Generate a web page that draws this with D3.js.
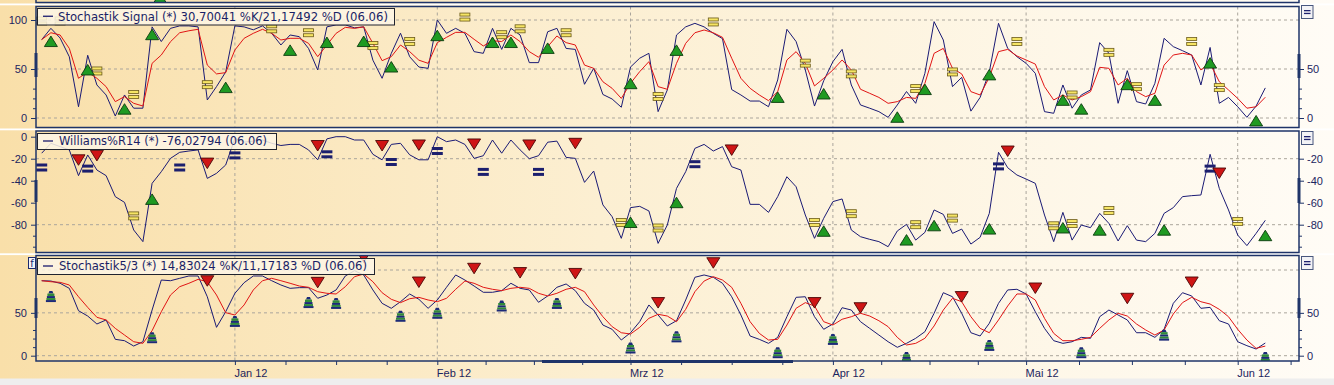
<!DOCTYPE html>
<html>
<head>
<meta charset="utf-8">
<script src="https://cdnjs.cloudflare.com/ajax/libs/d3/7.8.5/d3.min.js"></script>
<style>
  body { margin: 0; background: #fff; }
  svg { display: block; font-family: 'DejaVu Sans', Verdana, sans-serif; }
</style>
</head>
<body>
<div id="chart"></div>
<script>
// x axis: one slot per weekday, 02.12.2011 .. 06.06.2012
var monthIdx = [21, 43, 64, 86, 107, 130];
var monthLabels = ['Jan 12', 'Feb 12', 'Mrz 12', 'Apr 12', 'Mai 12', 'Jun 12'];

// Stochastik Signal %K / %D
var stochK = [80, 91.5, 81.6, 62.5, 11.5, 64, 33.7, 23.5, 2, 23.5,
  10, 10, 93, 78, 91.5, 94, 94, 93, 18.4, 32,
  47, 94, 93, 90, 94, 86.4, 74.5, 84.7, 83, 71,
  49, 93, 95, 95, 92, 93, 59, 40.5, 66, 86.5,
  62.5, 52, 50.7, 100, 86.4, 91.5, 86.4, 67.7, 66, 91.5,
  70, 91.5, 84.7, 56.5, 56.5, 88, 91.5, 71, 70, 34.4,
  50.7, 24, 19.4, 11, 52, 61, 66, 6.5, 28.6, 84.7,
  93, 96.6, 93, 86.4, 81, 29, 23.5, 17.3, 17.3, 11.5,
  38.8, 90.5, 78, 49, 12.2, 38, 57.5, 70, 33.7, 13.3,
  10, 6.5, 0.7, 13.3, 27, 15, 45.6, 98.3, 79.6, 32,
  41.5, 7, 21, 47, 96.6, 71, 62.6, 55.8, 45.6, 6.5,
  4.8, 33.7, 10, 23.5, 28.6, 76.9, 66, 15, 48.3, 16.7,
  14.3, 35.4, 81.3, 72.8, 68.7, 64.3, 33.7, 72, 15, 21,
  11.5, 0.7, 12.2, 30.7];
var stochD = [80, 87, 84.7, 71, 40.5, 47, 40.5, 32, 16.7, 21.8,
  15, 12.2, 55.8, 64.3, 77.9, 87, 89, 90.5, 54, 45,
  46.3, 69.4, 81.3, 86.4, 90.5, 86.4, 79.6, 81.3, 81.3, 76.2,
  62.6, 74.5, 86.4, 92.5, 91.5, 93, 76.2, 58.5, 62.6, 74.5,
  67.7, 59, 55.8, 76.9, 82.3, 87.4, 87.4, 80.3, 73.5, 78.9,
  78, 84.7, 78, 67.7, 62, 72.8, 83.7, 76.9, 74.5, 54,
  50.7, 37, 30.3, 20, 35.4, 47.3, 57.5, 32, 29.3, 55.8,
  76.2, 87, 89.8, 87, 82.3, 61, 40.5, 30.3, 23.5, 17.7,
  26.9, 59.2, 67.7, 55.8, 32.7, 40.5, 49, 59.2, 49, 29.3,
  25.2, 21, 15, 16.7, 21, 20, 35.4, 66, 71, 50.7,
  45, 26.9, 23.5, 41.5, 67.7, 70, 63.3, 59.2, 55, 32,
  18.4, 23.5, 18.4, 21.8, 26.9, 51.7, 50.7, 33.7, 40.5, 26.9,
  21.8, 25.2, 54, 64.3, 66, 64.3, 49, 55.8, 37, 28.6,
  20, 10, 11.5, 21.2];

// Williams %R 14
var willR = [-15, -6, -9, -12, -35.4, -16.6, -30.3, -35.4, -54.5, -59.7,
  -84.8, -95.4, -42.4, -31.8, -19.7, -14.2, -13, -12, -37.9, -33.3,
  -25.7, -1.5, -5, -4, -3, -6, -8, -7, -7, -12,
  -21, -2, 0, 0, -3, -3, -16, -21, -7, -6,
  -16.5, -21, -21, 0, -4.5, -3, -7, -19.7, -17.3, -3,
  -15, -3, -12, -20, -17.3, -5, -4, -18.8, -19.7, -41.5,
  -31.2, -62, -72.7, -92.4, -64.5, -63.3, -67.5, -97, -80.3, -47,
  -31.8, -10.6, -7, -13, -9, -27.3, -30.3, -61.5, -61.5, -68.8,
  -54.5, -36.4, -45.5, -71.2, -92.4, -74.2, -59, -56.6, -84.8, -90.9,
  -93.3, -95.4, -100, -85.7, -79.7, -94, -87, -66.6, -70.6, -87.9,
  -84, -97.6, -91.5, -69.7, -14.2, -28.2, -34.8, -38.5, -42.4, -71.2,
  -95.4, -68.8, -94, -80.3, -82.7, -69.7, -78.8, -94.8, -80.9, -94,
  -95.4, -87.9, -69.7, -64.5, -54.5, -53.6, -53, -16, -47, -66.6,
  -89.4, -99, -87.9, -76];

// Stochastik 5/3 %K / %D
var s53K = [87.5, 87.1, 84.5, 78.6, 52.5, 46.3, 37, 41.7, 19.1, 17.5,
  11.3, 16.3, 53.3, 88.3, 87.5, 90.3, 93, 93, 68.8, 33.1,
  51.3, 72.8, 85.2, 93, 93, 87.5, 82.5, 78.6, 79.4, 79.4,
  67, 70.8, 76.7, 93, 99.2, 94.2, 76.7, 61.1, 55.3, 63,
  72, 65.8, 55.3, 65, 79.8, 94.2, 88.3, 81.3, 74, 74,
  75.9, 84.5, 78.6, 76.7, 62.3, 69.7, 79.8, 83.7, 75.9, 61.1,
  53.3, 35.8, 30.8, 18.3, 26.8, 39.7, 59.2, 47.5, 34.7, 40.8,
  65, 91.5, 94.2, 91.5, 84.5, 68.8, 47.5, 23, 19.1, 14.4,
  21.4, 45.5, 68.1, 68.8, 45.5, 30.8, 37, 56, 53.3, 39.7,
  31.9, 24.1, 16.3, 9.8, 14.4, 20.3, 28, 49.5, 73.5, 68.8,
  49.5, 26.8, 23, 37.8, 61.1, 76.7, 77.5, 72, 51.3, 31.9,
  17.5, 14.4, 16.3, 21.4, 20.3, 45.5, 53.3, 47.5, 41.7, 26.8,
  26.8, 21.4, 30.8, 61.1, 73.5, 69.7, 55.3, 56.4, 40.8, 37,
  16.3, 11.7, 7.8, 14.8];
var s53D = [87.5, 86.3, 85.6, 82.5, 68.8, 56.4, 44.8, 41.7, 31.9, 24.1,
  16.3, 14.4, 29.2, 51.3, 70.8, 80.5, 84.5, 89.1, 86.3, 70.8,
  50.2, 47.5, 59.2, 76.7, 87.5, 90.3, 87.5, 84.5, 81.3, 79.8,
  74.7, 72.8, 72, 80.5, 92.2, 95.3, 86.3, 73.5, 65.8, 61.9,
  66.5, 68.1, 65, 63, 67, 77.5, 87.1, 84.5, 79.8, 77.5,
  75.9, 78.6, 79.8, 78.6, 72.8, 69.7, 72.8, 77.5, 79.8, 74.7,
  59.2, 45.5, 33.9, 26.8, 25.3, 33.1, 43.6, 48.3, 46.3, 39.7,
  54.1, 74.7, 87.1, 92.2, 88.3, 79.8, 61.1, 39.7, 26.1, 18.3,
  19.1, 35.8, 55.3, 61.9, 58, 39.7, 35.8, 42.5, 45.5, 49.5,
  46.3, 40.8, 33.9, 21.4, 12.5, 14.4, 20.3, 34.7, 53.3, 67,
  63, 45.5, 31.9, 26.8, 41.7, 58, 72, 72, 65, 43.6,
  26.1, 17.5, 17.5, 19.1, 21.4, 31.9, 41.7, 49.5, 46.3, 37,
  30, 24.1, 30, 48.7, 61.9, 68.1, 63, 60.3, 54.1, 45.5,
  30.8, 18.3, 8.6, 11.2];

// signal markers: slot index + value
var p1UpIdx = [1, 5, 9, 12, 20, 27, 31, 35, 38, 43, 49, 51, 55, 64, 69, 80, 85, 93, 96, 103, 111, 113, 118, 121, 127, 132];
var p1UpVal = [78, 49, 9, 85, 31, 69, 77, 78, 52, 84, 77, 77, 71, 35, 69, 21, 24.5, 0.7, 29, 44, 18, 9, 34, 18, 56, -3];
var p1EqIdx = [0, 2, 6, 10, 18, 25, 29, 36, 40, 46, 50, 52, 57, 67, 73, 83, 88, 95, 99, 106, 112, 116, 119, 125, 128];
var p1EqVal = [99, 99, 48, 24, 34, 91, 87, 74, 78, 103, 85, 91, 87, 22, 98, 56, 45, 30, 47, 78, 23.5, 67, 32, 78, 31];

var p2NavyIdx = [0, 5, 15, 21, 31, 38, 43, 48, 54, 71, 104, 127];
var p2NavyVal = [-28, -29, -28, -17, -16, -23, -13, -32, -32, -25, -27, -29];
var p2DownIdx = [4, 6, 18, 30, 37, 41, 47, 53, 58, 75, 105, 128];
var p2DownVal = [-21, -17, -24, -8, -8, -7.5, -6.6, -7.5, -6, -12, -13, -33];
var p2UpIdx = [12, 64, 69, 85, 94, 97, 103, 111, 115, 122, 133];
var p2UpVal = [-57, -78, -60, -86, -94, -81, -84, -83, -85, -85, -90];
var p2EqIdx = [10, 63, 67, 84, 88, 95, 99, 110, 112, 116, 130];
var p2EqVal = [-72, -78, -83, -78, -70, -80, -74, -81, -79, -67, -77];

var p3DownIdx = [18, 30, 35, 41, 47, 52, 58, 67, 73, 84, 89, 100, 108, 118, 125];
var p3DownVal = [87.5, 85.6, 115, 86, 102, 97, 96, 62, 108.5, 62, 56, 69, 79, 67, 86];
var p3PawnIdx = [1, 12, 21, 29, 32, 39, 43, 50, 56, 64, 69, 80, 86, 94, 103, 113, 122, 133];
var p3PawnVal = [69, 21, 40, 62, 61, 46, 49.5, 58, 61, 9, 22, 3.5, 19, -2, 12, 3.5, 24, -2];

var legends = ['Stochastik Signal (*) 30,70041 %K/21,17492 %D (06.06)',
  'Williams%R14 (*) -76,02794 (06.06)',
  'Stochastik5/3 (*) 14,83024 %K/11,17183 %D (06.06)'];

// ---- layout ----
var W = 1334, H = 385;
var left = 36, right = 1299;
var navy = '#1f3469', txt = '#1b2460';

var x = d3.scaleLinear().domain([0, 133]).range([41.7, 1265.3]);

var panels = [
  { top: 6.5, bottom: 127.5, y: d3.scaleLinear().domain([0, 100]).range([118, 20]),
    grid: [0, 50, 100], lticks: [0, 50, 100], rticks: [0, 50], minor: [10, 20, 30],
    thick: [[53, 77], [54, 78]], legend: { x1: 37, x2: 394, y1: 8, y2: 24.5, tx: 58, tw: 330 } },
  { top: 131, bottom: 252.5, y: d3.scaleLinear().domain([-100, 0]).range([246.7, 136.7]),
    grid: [-20, -80], lticks: [0, -20, -40, -60, -80], rticks: [-20, -40, -60, -80], minor: [-90, -100],
    thick: [[180, 202], [178, 203]], legend: { x1: 37, x2: 276, y1: 133, y2: 149, tx: 59, tw: 208 } },
  { top: 255.5, bottom: 361, y: d3.scaleLinear().domain([0, 100]).range([355.7, 270]),
    grid: [0, 50, 100], lticks: [0, 50], rticks: [0, 50], minor: [10, 20, 30],
    thick: [[298, 318], [298, 318]], legend: { x1: 37, x2: 374, y1: 258, y2: 274, tx: 59, tw: 308 } }
];

var svg = d3.select('#chart').append('svg')
    .attr('width', W)
    .attr('height', H);

var defs = svg.append('defs');
var grad = defs.append('linearGradient').attr('id', 'bg')
    .attr('x1', 0).attr('x2', 1).attr('y1', 0).attr('y2', 0);
grad.append('stop').attr('offset', '0').attr('stop-color', '#f9dfa9');
grad.append('stop').attr('offset', '0.45').attr('stop-color', '#fcefd2');
grad.append('stop').attr('offset', '1').attr('stop-color', '#fffcf6');

svg.append('rect').attr('width', W).attr('height', H).attr('fill', 'url(#bg)');
svg.append('rect').attr('y', 378.5).attr('width', W).attr('height', 7).attr('fill', '#eeeeee');

// white separators between panels
[3.5, 128.5, 253.3].forEach(function(yy) {
  svg.append('rect').attr('x', 0).attr('y', yy).attr('width', W).attr('height', 1.8).attr('fill', '#ffffff');
});

// bottom of the panel above (cut off)
svg.append('path').attr('d', 'M154,2.5L166,2.5L160,-8Z').attr('fill', '#1e9a2a').attr('stroke', '#0c3a10');
svg.append('path')
    .attr('d', 'M' + left + ',0V2.5H' + right + 'V0')
    .attr('fill', 'none').attr('stroke', navy).attr('stroke-width', 1.5);

var xTicks = [];
monthIdx.forEach(function(m, k) {
  xTicks.push(m);
  var next = k < monthIdx.length - 1 ? monthIdx[k + 1] : null;
  var step = next !== null ? (next - m) / 4 : (m - monthIdx[k - 1]) / 4;
  var n = next !== null ? 3 : 1;
  for (var j = 1; j <= n; j++) xTicks.push(m + step * j);
});

var line = function(y) {
  return d3.line().x(function(d, i) { return x(i); }).y(function(d) { return y(d); });
};

function drawMarkers(g, idx, vals, y, kind) {
  var m = g.append('g').selectAll('g')
      .data(d3.zip(idx, vals))
    .enter().append('g')
      .attr('transform', function(d) { return 'translate(' + x(d[0]) + ',' + y(d[1]) + ')'; });

  if (kind === 'up') {
    m.append('path').attr('d', 'M-6.5,5L6.5,5L0,-5.5Z')
      .attr('fill', '#1f9a22').attr('stroke', '#0b3b0e').attr('stroke-width', 0.9);
  } else if (kind === 'down') {
    m.append('path').attr('d', 'M-6.5,-5L6.5,-5L0,5.5Z')
      .attr('fill', '#cf1515').attr('stroke', '#4a0707').attr('stroke-width', 0.9);
  } else if (kind === 'eqy') {
    m.append('rect').attr('x', -5).attr('y', -4).attr('width', 10).attr('height', 3)
      .attr('fill', '#f6e564').attr('stroke', '#6b5a1a').attr('stroke-width', 0.8);
    m.append('rect').attr('x', -5).attr('y', 1).attr('width', 10).attr('height', 3)
      .attr('fill', '#f6e564').attr('stroke', '#6b5a1a').attr('stroke-width', 0.8);
  } else if (kind === 'eqn') {
    m.append('rect').attr('x', -5.5).attr('y', -4).attr('width', 11).attr('height', 3).attr('fill', '#1c1f6e');
    m.append('rect').attr('x', -5.5).attr('y', 1).attr('width', 11).attr('height', 3).attr('fill', '#1c1f6e');
  } else if (kind === 'pawn') {
    m.append('path').attr('d', 'M-1.5,-5.5L1.5,-5.5L2.5,-3L-2.5,-3Z').attr('fill', '#1c2a78');
    m.append('rect').attr('x', -3.5).attr('y', -3).attr('width', 7).attr('height', 2.5).attr('fill', '#2f8a3a');
    m.append('rect').attr('x', -4).attr('y', -0.5).attr('width', 8).attr('height', 2).attr('fill', '#1c2a78');
    m.append('rect').attr('x', -4.5).attr('y', 1.5).attr('width', 9).attr('height', 2).attr('fill', '#2f8a3a');
    m.append('rect').attr('x', -5).attr('y', 3.5).attr('width', 10).attr('height', 2).attr('fill', '#1c2a78');
  }
}

function drawPanel(p, k) {
  var g = svg.append('g').attr('class', 'panel' + k);
  var clipId = 'clip' + k;
  defs.append('clipPath').attr('id', clipId)
    .append('rect').attr('x', left).attr('y', p.top).attr('width', right - left).attr('height', p.bottom - p.top);

  // grid
  g.selectAll('line.hgrid').data(p.grid)
    .enter().append('line')
      .attr('class', 'hgrid')
      .attr('x1', left).attr('x2', right)
      .attr('y1', function(d) { return p.y(d); }).attr('y2', function(d) { return p.y(d); })
      .attr('stroke', '#aaa59c').attr('stroke-dasharray', '3,3');
  g.selectAll('line.vgrid').data(monthIdx)
    .enter().append('line')
      .attr('class', 'vgrid')
      .attr('x1', function(d) { return x(d); }).attr('x2', function(d) { return x(d); })
      .attr('y1', p.top).attr('y2', p.bottom)
      .attr('stroke', '#aaa59c').attr('stroke-dasharray', '3,3');

  var plot = g.append('g').attr('clip-path', 'url(#' + clipId + ')');
  return plot;
}

function drawFrame(p, k) {
  var g = svg.append('g');
  g.append('rect')
    .attr('x', left).attr('y', p.top)
    .attr('width', right - left).attr('height', p.bottom - p.top)
    .attr('fill', 'none').attr('stroke', navy).attr('stroke-width', 1.5);

  g.append('line').attr('x1', left).attr('x2', left).attr('y1', p.thick[0][0]).attr('y2', p.thick[0][1])
    .attr('stroke', navy).attr('stroke-width', 3);
  g.append('line').attr('x1', right).attr('x2', right).attr('y1', p.thick[1][0]).attr('y2', p.thick[1][1])
    .attr('stroke', navy).attr('stroke-width', 3);

  var fmt = function(d) { return String(d); };
  var la = g.append('g').attr('transform', 'translate(' + left + ',0)')
    .call(d3.axisLeft(p.y).tickValues(p.lticks).tickSize(5).tickPadding(4).tickFormat(fmt));
  var lm = g.append('g').attr('transform', 'translate(' + left + ',0)')
    .call(d3.axisLeft(p.y).tickValues(p.minor).tickSize(3).tickFormat(''));
  var ra = g.append('g').attr('transform', 'translate(' + right + ',0)')
    .call(d3.axisRight(p.y).tickValues(p.rticks).tickSize(5).tickPadding(3).tickFormat(fmt));
  var rm = g.append('g').attr('transform', 'translate(' + right + ',0)')
    .call(d3.axisRight(p.y).tickValues(p.minor).tickSize(3).tickFormat(''));
  [la, lm, ra, rm].forEach(function(a) {
    a.select('.domain').remove();
    a.selectAll('line').attr('stroke', navy);
    a.selectAll('text').attr('fill', txt).style('font-size', '11px');
  });

  // "=" button on the right
  var by = k === 0 ? 5.5 : (k === 1 ? 131.5 : 256.5);
  g.append('rect').attr('x', 1301.5).attr('y', by).attr('width', 11.5).attr('height', 13)
    .attr('fill', '#f3f3f6').attr('stroke', '#48577e').attr('stroke-width', 1);
  g.append('rect').attr('x', 1304).attr('y', by + 4.5).attr('width', 6.5).attr('height', 1.3).attr('fill', '#1c1f6e');
  g.append('rect').attr('x', 1304).attr('y', by + 7.3).attr('width', 6.5).attr('height', 1.3).attr('fill', '#1c1f6e');

  // legend
  var L = p.legend;
  g.append('rect')
    .attr('x', L.x1 + 0.5).attr('y', L.y1 + 0.5)
    .attr('width', L.x2 - L.x1).attr('height', L.y2 - L.y1)
    .attr('fill', '#fdf6e6').attr('fill-opacity', 0.85)
    .attr('stroke', '#20232e').attr('stroke-width', 1);
  var ly = (L.y1 + L.y2) / 2;
  g.append('line').attr('x1', 43).attr('x2', 53).attr('y1', ly).attr('y2', ly)
    .attr('stroke', '#1a1a6e').attr('stroke-width', 1.3);
  g.append('text')
    .attr('x', L.tx).attr('y', ly + 4.3)
    .attr('textLength', L.tw).attr('lengthAdjust', 'spacingAndGlyphs')
    .attr('fill', '#1a1f66')
    .style('font-size', '11.5px')
    .text(legends[k]);
}

// panel 1 : Stochastik Signal
var plot1 = drawPanel(panels[0], 0);
var y1 = panels[0].y;
plot1.append('path').datum(stochK).attr('d', line(y1)).attr('fill', 'none').attr('stroke', '#1a1a74').attr('stroke-width', 1);
plot1.append('path').datum(stochD).attr('d', line(y1)).attr('fill', 'none').attr('stroke', '#e01414').attr('stroke-width', 1);
drawMarkers(plot1, p1EqIdx, p1EqVal, y1, 'eqy');
drawMarkers(plot1, p1UpIdx, p1UpVal, y1, 'up');
drawFrame(panels[0], 0);

// panel 2 : Williams %R
var plot2 = drawPanel(panels[1], 1);
var y2 = panels[1].y;
plot2.append('path').datum(willR).attr('d', line(y2)).attr('fill', 'none').attr('stroke', '#1a1a74').attr('stroke-width', 1);
drawMarkers(plot2, p2NavyIdx, p2NavyVal, y2, 'eqn');
drawMarkers(plot2, p2EqIdx, p2EqVal, y2, 'eqy');
drawMarkers(plot2, p2DownIdx, p2DownVal, y2, 'down');
drawMarkers(plot2, p2UpIdx, p2UpVal, y2, 'up');
drawFrame(panels[1], 1);

// panel 3 : Stochastik 5/3
var plot3 = drawPanel(panels[2], 2);
var y3 = panels[2].y;
plot3.append('path').datum(s53K).attr('d', line(y3)).attr('fill', 'none').attr('stroke', '#1a1a74').attr('stroke-width', 1);
plot3.append('path').datum(s53D).attr('d', line(y3)).attr('fill', 'none').attr('stroke', '#e01414').attr('stroke-width', 1);
drawMarkers(plot3, p3PawnIdx, p3PawnVal, y3, 'pawn');
drawMarkers(plot3, p3DownIdx, p3DownVal, y3, 'down');
drawFrame(panels[2], 2);

// "f" button
svg.append('rect').attr('x', 28.5).attr('y', 257.5).attr('width', 7).attr('height', 11)
  .attr('fill', '#f3f3f6').attr('stroke', '#1c2a6e');
svg.append('text').attr('x', 32).attr('y', 266.5).attr('text-anchor', 'middle')
  .attr('fill', '#1c2a6e').style('font-size', '10px').text('f');

// scroll range on the bottom edge
svg.append('line').attr('x1', 542).attr('x2', 793).attr('y1', 361.5).attr('y2', 361.5)
  .attr('stroke', navy).attr('stroke-width', 3);

// x axis
var xAxis = d3.axisBottom(x)
    .tickValues(xTicks)
    .tickSize(4)
    .tickPadding(4)
    .tickFormat(function(d) { var k = monthIdx.indexOf(d); return k < 0 ? '' : monthLabels[k]; });
var xa = svg.append('g').attr('transform', 'translate(0,361)').call(xAxis);
xa.select('.domain').remove();
xa.selectAll('line').attr('stroke', navy);
xa.selectAll('text').attr('fill', txt).attr('text-anchor', 'start').attr('dx', -1).style('font-size', '11px');
</script>
</body>
</html>
